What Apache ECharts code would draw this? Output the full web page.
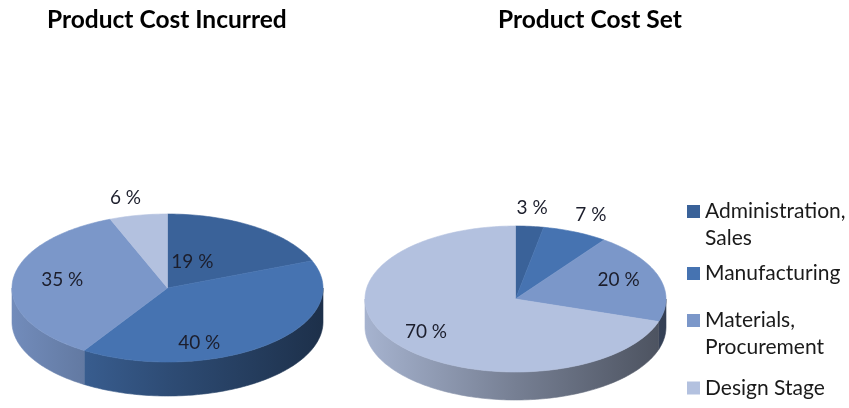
<!DOCTYPE html>
<html><head><meta charset="utf-8">
<script src="https://cdn.jsdelivr.net/npm/echarts@6/dist/echarts.min.js"></script>
<style>html,body{margin:0;padding:0;background:#fff}#c{width:849px;height:408px}</style>
</head><body><div id="c"></div>
<script>
// ---- data ----
const categories = ['Administration, Sales', 'Manufacturing', 'Materials, Procurement', 'Design Stage'];
const costIncurred = [19, 40, 35, 6];
const costSet = [3, 7, 20, 70];
const pieTitles = ['Product Cost Incurred', 'Product Cost Set'];

// ---- styles / layout ----
const colors = ['#3A6299', '#4673B1', '#7B97C9', '#B3C1DF'];
const FONT = 'Lato';
const pies = [costIncurred, costSet];
const geom = [
  {cx: 167.5, cy: 288, rx: 155.5, ry: 74, depth: 34},
  {cx: 515.5, cy: 299, rx: 150.5, ry: 73, depth: 28}
];
// label placement factors relative to the slice's mid-angle (x, y of the ellipse radii)
const labelFactors = [
  [[0.285, 0.425], [0.32, 0.965], [0.68, 1.15], [1.44, 1.24]],
  [[1.17, 1.25], [1.26, 1.25], [0.72, 0.84], [0.735, 0.77]]
];
const legendTops = [171, 260, 280, 374.5];

function shade(hex, f) {
  const n = parseInt(hex.slice(1), 16);
  const r = Math.round(((n >> 16) & 255) * f), g = Math.round(((n >> 8) & 255) * f), b = Math.round((n & 255) * f);
  return 'rgb(' + r + ',' + g + ',' + b + ')';
}

function makeRender(k) {
  return function (params, api) {
    const p = params.dataIndex;
    const G = geom[p];
    const vals = pies[p];
    const total = vals.reduce((a, b) => a + b, 0);
    let before = 0;
    for (let i = 0; i < k; i++) before += vals[i];
    const v = api.value(0);
    const a0 = -Math.PI / 2 + 2 * Math.PI * before / total;
    const a1 = a0 + 2 * Math.PI * v / total;
    const color = colors[k];
    const children = [];
    const pt = (a, dy) => [G.cx + G.rx * Math.cos(a), G.cy + G.ry * Math.sin(a) + (dy || 0)];
    // side wall (front half only)
    const lo = Math.max(a0, 0), hi = Math.min(a1, Math.PI);
    if (hi > lo) {
      const n = Math.max(2, Math.ceil((hi - lo) / 0.02));
      const pts = [];
      for (let i = 0; i <= n; i++) pts.push(pt(lo + (hi - lo) * i / n, 0));
      for (let i = n; i >= 0; i--) pts.push(pt(lo + (hi - lo) * i / n, G.depth));
      const grad = new echarts.graphic.LinearGradient(G.cx - G.rx, 0, G.cx + G.rx, 0, [
        {offset: 0, color: shade(color, 0.93)},
        {offset: 0.5, color: shade(color, 0.66)},
        {offset: 1, color: shade(color, 0.42)}
      ], true);
      children.push({type: 'polygon', shape: {points: pts}, style: {fill: grad, stroke: grad, lineWidth: 0.6}});
    }
    // top face
    const n2 = Math.max(2, Math.ceil((a1 - a0) / 0.02));
    const tp = [[G.cx, G.cy]];
    for (let i = 0; i <= n2; i++) tp.push(pt(a0 + (a1 - a0) * i / n2, 0));
    children.push({type: 'polygon', shape: {points: tp}, style: {fill: color, stroke: color, lineWidth: 0.6}});
    // label
    const mid = (a0 + a1) / 2;
    const f = labelFactors[p][k];
    children.push({
      type: 'text',
      style: {
        text: v + ' %',
        x: G.cx + f[0] * G.rx * Math.cos(mid),
        y: G.cy + f[1] * G.ry * Math.sin(mid),
        align: 'center', verticalAlign: 'middle',
        fill: '#1c1e2c', fontFamily: FONT, fontSize: 19
      },
      z2: 10
    });
    return {type: 'group', children: children};
  };
}

const series = categories.map((name, k) => ({
  type: 'custom',
  name: name,
  coordinateSystem: 'none',
  color: colors[k],
  itemStyle: {color: colors[k]},
  data: [costIncurred[k], costSet[k]],
  renderItem: makeRender(k),
  silent: true,
  animation: false
}));

const legends = categories.map((name, i) => {
  const twoLine = name.indexOf(', ') >= 0;
  return {
    data: [name],
    orient: 'vertical',
    left: 687,
    top: legendTops[i],
    padding: 0,
    icon: 'rect',
    itemWidth: 13,
    itemHeight: 13,
    selectedMode: false,
    // two-line names: a leading blank line keeps the marker beside the first line
    formatter: n => (twoLine ? '\n' : '') + n.replace(', ', ',\n'),
    textStyle: {fontFamily: FONT, fontSize: 21, color: '#1a1a1a', lineHeight: 27}
  };
});

const chart = echarts.init(document.getElementById('c'), null, {renderer: 'canvas'});
chart.setOption({
  animation: false,
  backgroundColor: '#ffffff',
  title: [
    {text: pieTitles[0], left: 42, top: 3, textStyle: {fontFamily: FONT, fontWeight: 'bold', fontSize: 24.5, color: '#000'}},
    {text: pieTitles[1], left: 493, top: 3, textStyle: {fontFamily: FONT, fontWeight: 'bold', fontSize: 24.5, color: '#000'}}
  ],
  legend: legends,
  series: series
});
</script></body></html>
